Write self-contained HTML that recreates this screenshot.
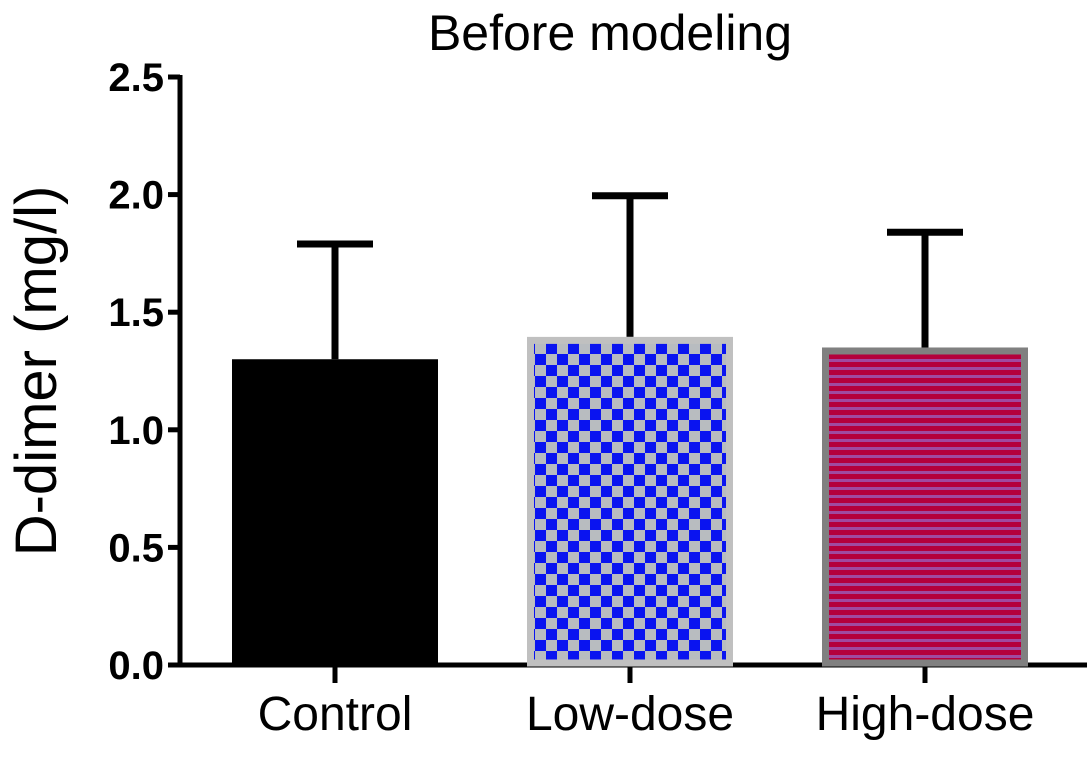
<!DOCTYPE html>
<html><head><meta charset="utf-8"><style>
body{margin:0;background:#fff;width:1087px;height:767px;overflow:hidden}
text{font-family:"Liberation Sans",sans-serif}
</style></head><body>
<svg width="1087" height="767">
<defs>
<pattern id="chk" width="22" height="22" patternUnits="userSpaceOnUse" x="535" y="343">
<rect width="22" height="22" fill="#0a14f0"/>
<rect x="0" y="0" width="11" height="11" fill="#b8bcc0"/>
<rect x="11" y="11" width="11" height="11" fill="#b8bcc0"/>
</pattern>
<pattern id="str" width="8" height="8" patternUnits="userSpaceOnUse" y="354">
<rect width="8" height="8" fill="#b4003c"/>
<rect y="5" width="8" height="3" fill="#a04aa0"/>
</pattern>
</defs>
<text x="610" y="50" font-size="50" text-anchor="middle">Before modeling</text>
<g id="axes"></g>
<g id="bars"></g>
<text transform="translate(56,371) rotate(-90)" font-size="58" text-anchor="middle">D-dimer (mg/l)</text>
</svg>
<script>
const categories=["Control","Low-dose","High-dose"];
const means=[1.3,1.395,1.35];
const errors=[0.49,0.6,0.49];
const yTicks=[0,0.5,1.0,1.5,2.0,2.5];
const fills=["#000","url(#chk)","url(#str)"];
const borders=["#000","#c0c0c0","#808080"];
const NS="http://www.w3.org/2000/svg";
const y=v=>665-v*235.2;
const xc=i=>335+i*295;
function mk(t,a,p){const e=document.createElementNS(NS,t);for(const k in a)e.setAttribute(k,a[k]);p.appendChild(e);return e;}
const ax=document.getElementById('axes'),bg=document.getElementById('bars');
let yl=mk('line',{x1:180,y1:75,x2:180,y2:667,stroke:'#000','stroke-width':5},ax);


let xl=mk('line',{x1:178,y1:665,x2:1087,y2:665,stroke:'#000','stroke-width':5},ax);


yTicks.forEach(t=>{
 mk('line',{x1:168,y1:y(t),x2:180,y2:y(t),stroke:'#000','stroke-width':5},ax);
 const tx=mk('text',{x:164,y:y(t)+14,'font-size':40,'font-weight':'bold','text-anchor':'end'},ax);
 tx.textContent=t.toFixed(1);
 
 
});
categories.forEach((c,i)=>{
 const x=xc(i);
 mk('line',{x1:x,y1:665,x2:x,y2:683,stroke:'#000','stroke-width':5},ax);
 const tl=mk('text',{x:x,y:730,'font-size':48,'text-anchor':'middle'},ax);
 tl.textContent=c;
 
 
 const top=y(means[i]+errors[i]);
 const ln=mk('line',{x1:x,y1:top,x2:x,y2:y(means[i]),stroke:'#000','stroke-width':7},bg);
 
 
 const cap=mk('line',{x1:x-38,y1:top,x2:x+38,y2:top,stroke:'#000','stroke-width':7},bg);
 
 
 const sw=i==0?0:7;
 const r=mk('rect',{x:x-103+sw/2,y:y(means[i])+sw/2,width:206-sw,height:665-y(means[i])-sw/2-2,fill:fills[i],stroke:borders[i],'stroke-width':sw},bg);
 
 
});
</script>
</body></html>
